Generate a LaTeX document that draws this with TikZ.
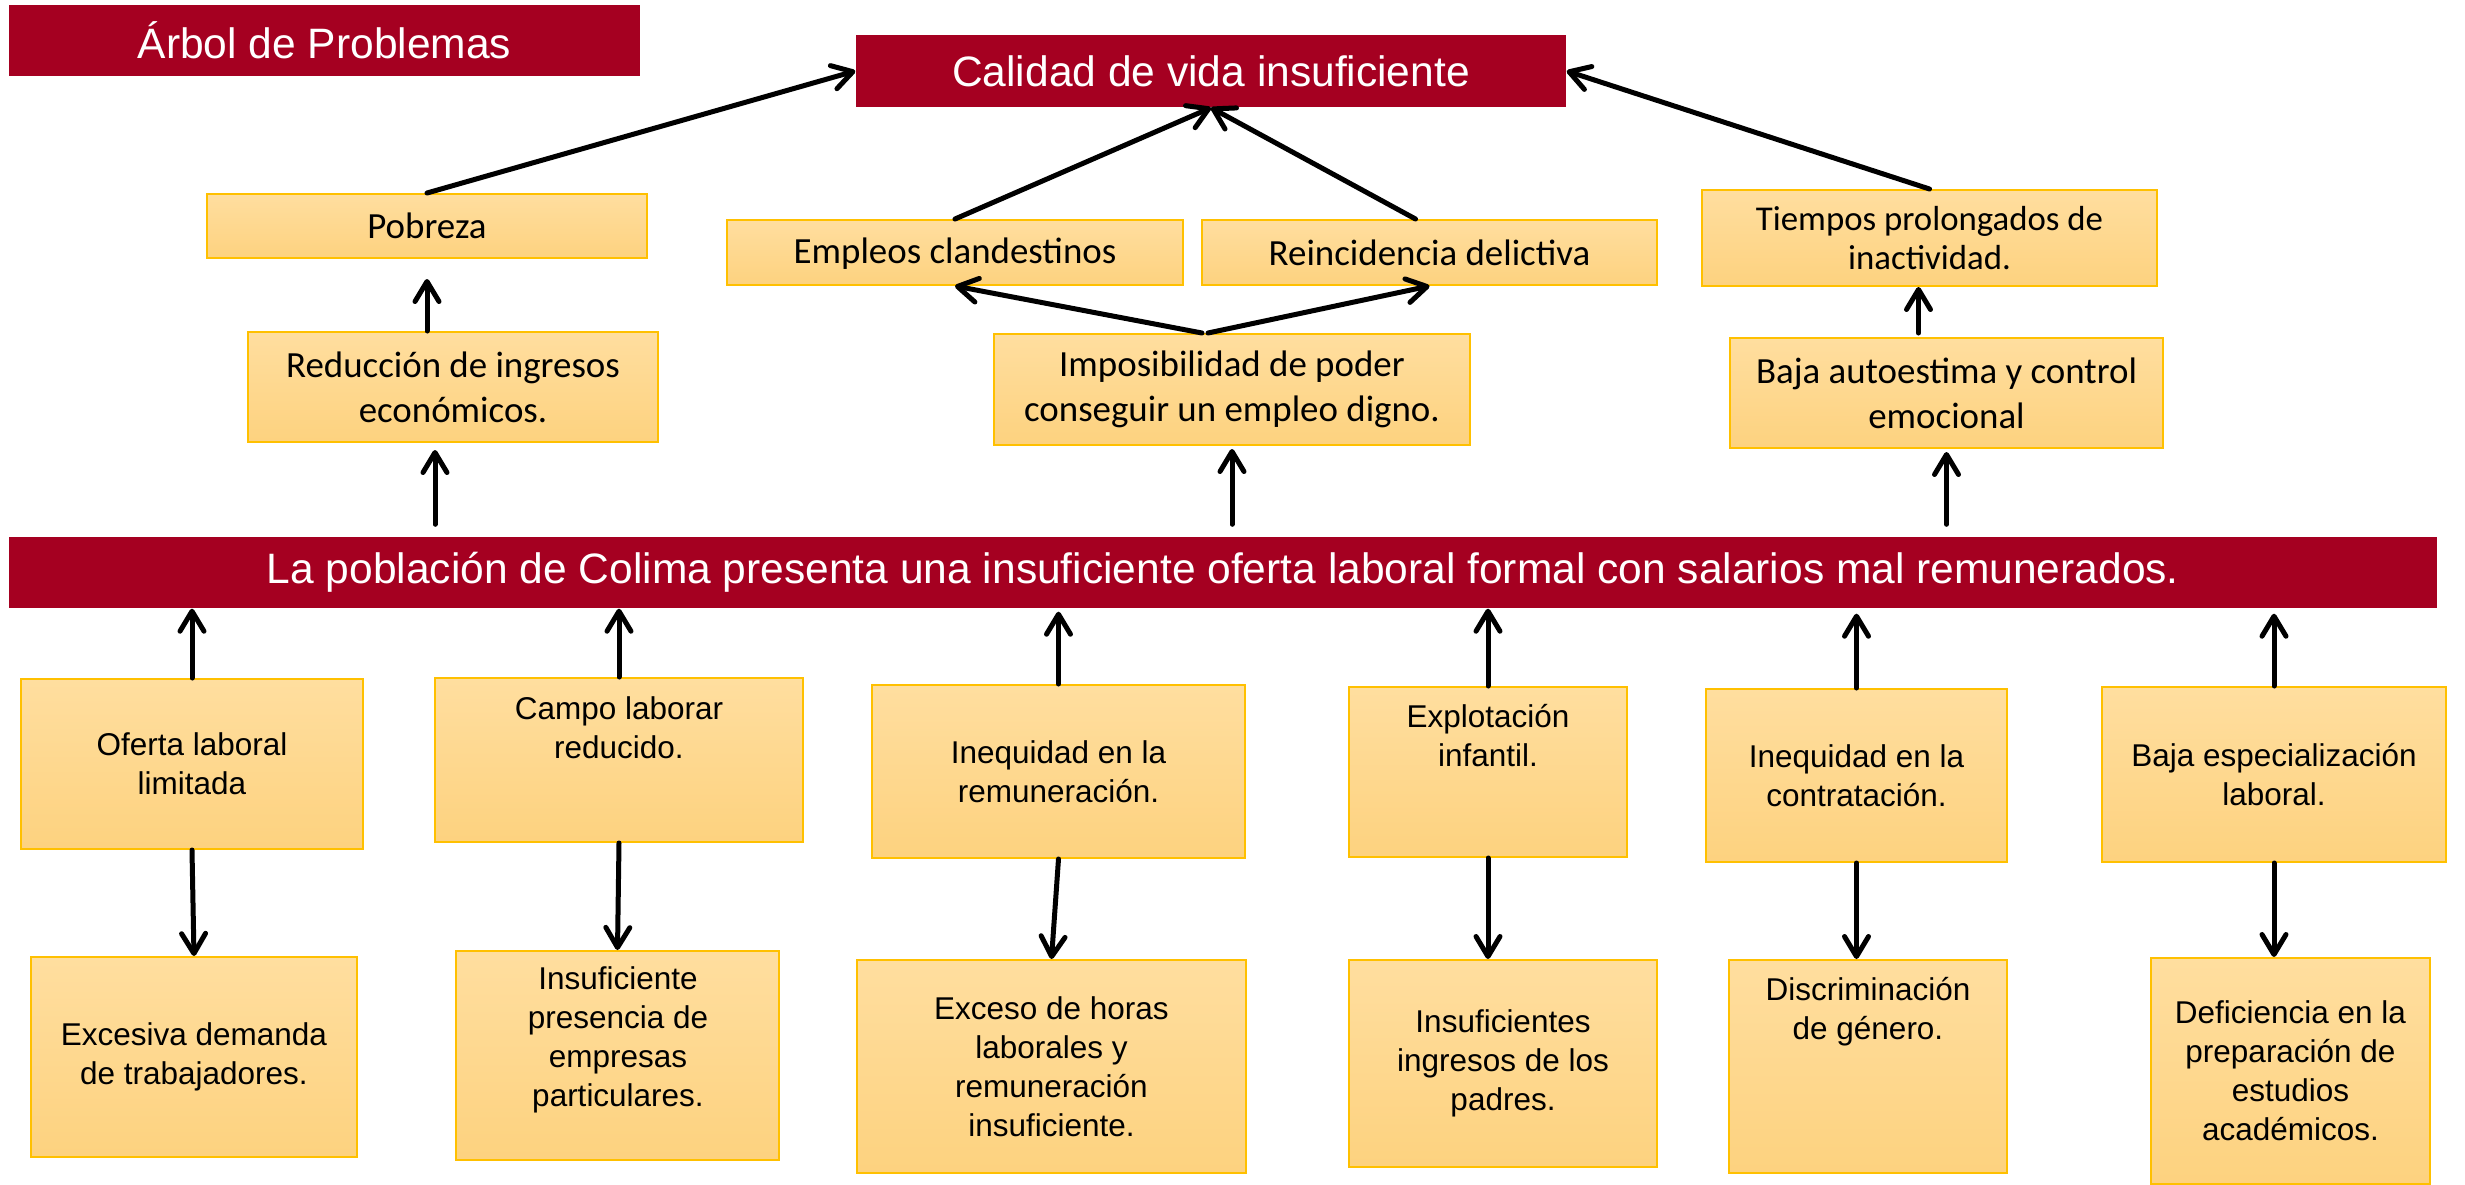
\documentclass[tikz,border=0pt]{standalone}
\usepackage{fontspec}
\setmainfont{Liberation Sans}
\newfontfamily\calibrifont{Carlito}
\usetikzlibrary{arrows.meta}
\definecolor{vino}{HTML}{A50021}
\definecolor{crema}{HTML}{FFDE9F}
\definecolor{miel}{HTML}{FDD27F}
\definecolor{borde}{HTML}{FFC000}

\begin{document}
\begin{tikzpicture}[x=0.1mm, y=-0.1mm,
  banner/.style={fill=vino, inner sep=0pt, text=white, minimum height=7.1mm, font=\fontsize{12.1}{14}\selectfont},
  effect/.style={top color=crema, bottom color=miel, draw=borde, line width=0.2mm, inner sep=0pt, align=center, font=\calibrifont\fontsize{10.5}{12.8}\selectfont},
  cause/.style={top color=crema, bottom color=miel, draw=borde, line width=0.2mm, inner sep=0pt, align=center, font=\fontsize{8.96}{11.1}\selectfont},
  txt/.style={align=center, inner sep=0pt, font=\fontsize{8.96}{11.1}\selectfont},
  arr/.style={-{Straight Barb[length=2mm, width=2.4mm, round]}, line width=0.5mm, line cap=round}]
\useasboundingbox (0,0) rectangle (2465,1185); %page size in pixels

% red banners
\node[banner, minimum width=63.1mm] (titulo) at (324.5,40.5) {Árbol de Problemas};
\node[banner, minimum width=71mm, minimum height=7.2mm] (calidad) at (1211,71) {Calidad de vida insuficiente};
\node[banner, minimum width=242.8mm] (barra) at (1223,572.5) {La población de Colima presenta una insuficiente oferta laboral formal con salarios mal remunerados.};

% effects (upper half)
\node[effect, minimum width=44mm, minimum height=6.4mm] (pobreza) at (427,226) {Pobreza};
\node[effect, minimum width=41mm, minimum height=11mm] (ingresos) at (453,387) {Reducción de ingresos\\económicos.};
\node[effect, minimum width=45.6mm, minimum height=6.5mm, text depth=0.4mm] (empleos) at (955,252.5) {Empleos clandestinos};
\node[effect, minimum width=45.5mm, minimum height=6.5mm] (delito) at (1429.5,252.5) {Reincidencia delictiva};
\node[effect, minimum width=47.6mm, minimum height=11.1mm] (empleo) at (1232,389.5) {Imposibilidad de poder\\conseguir un empleo digno.};
\node[effect, minimum width=45.5mm, minimum height=9.6mm, font=\calibrifont\fontsize{9.9}{10.9}\selectfont] (inactividad) at (1929.5,238) {Tiempos prolongados de\\inactividad.};
\node[effect, minimum width=43.3mm, minimum height=11mm] (autoestima) at (1946.5,393) {Baja autoestima y control\\emocional};

% causes (lower half)
\node[cause, minimum width=34.2mm, minimum height=17mm] (oferta) at (192,764) {Oferta laboral\\limitada};
\node[cause, minimum width=36.8mm, minimum height=16.4mm] (campo) at (619,760) {};
\node[txt] (campo-t) at (619,728) {Campo laborar\\reducido.};
\node[cause, minimum width=37.3mm, minimum height=17.3mm] (remuneracion) at (1058.5,771.5) {Inequidad en la\\remuneración.};
\node[cause, minimum width=27.8mm, minimum height=17mm] (explotacion) at (1488,772) {};
\node[txt] (explotacion-t) at (1488,736) {Explotación\\infantil.};
\node[cause, minimum width=30.1mm, minimum height=17.3mm] (contratacion) at (1856.5,775.5) {Inequidad en la\\contratación.};
\node[cause, minimum width=34.4mm, minimum height=17.5mm] (especializacion) at (2274,774.5) {Baja especialización\\laboral.};

% consequences (bottom row)
\node[cause, minimum width=32.6mm, minimum height=20mm] (demanda) at (194,1057) {Excesiva demanda\\de trabajadores.};
\node[cause, minimum width=32.3mm, minimum height=20.9mm] (empresas) at (617.5,1055.5) {};
\node[txt] (empresas-t) at (618,1040) {Insuficiente\\presencia de\\empresas\\particulares.};
\node[cause, minimum width=38.9mm, minimum height=21.3mm] (horas) at (1051.5,1066.5) {Exceso de horas\\laborales y\\remuneración\\insuficiente.};
\node[cause, minimum width=30.8mm, minimum height=20.7mm] (padres) at (1503,1063.5) {Insuficientes\\ingresos de los\\padres.};
\node[cause, minimum width=27.8mm, minimum height=21.3mm] (genero) at (1868,1066.5) {};
\node[txt] (genero-t) at (1868,1012) {Discriminación\\de género.};
\node[cause, minimum width=27.9mm, minimum height=22.6mm] (academicos) at (2290.5,1071) {Deficiencia en la\\preparación de\\estudios\\académicos.};

% arrows to the top problem
\draw[arr] (pobreza.north) -- (calidad.west);
\draw[arr] (empleos.north) -- (calidad.south);
\draw[arr] ([xshift=-1.4mm]delito.north) -- (calidad.south);
\draw[arr] (inactividad.north) -- (calidad.east);
\draw[arr, shorten >=2mm] (pobreza.south |- ingresos.north) -- (pobreza.south); %Reduccion -> Pobreza
\draw[arr] ([xshift=-3mm]empleo.north) -- (empleos.south);
\draw[arr] ([xshift=-2.4mm]empleo.north) -- (delito.south);
\draw[arr, shorten <=0.4mm] ([xshift=-1.1mm]autoestima.north -| inactividad.south) -- ([xshift=-1.1mm]inactividad.south);

% arrows from the central bar upwards
\draw[arr, shorten <=1.2mm, shorten >=0.7mm] ([xshift=-1.8mm]barra.north -| ingresos.south) -- ([xshift=-1.8mm]ingresos.south);
\draw[arr, shorten <=1.2mm, shorten >=0.3mm] (empleo.south |- barra.north) -- (empleo.south);
\draw[arr, shorten <=1.2mm, shorten >=0.3mm] (autoestima.south |- barra.north) -- (autoestima.south);

% causes -> bar, causes -> consequences
\draw[arr] (oferta.north) -- (oferta.north |- barra.south);
\draw[arr] (campo.north) -- (campo.north |- barra.south);
\draw[arr, shorten >=0.3mm] (remuneracion.north) -- (remuneracion.north |- barra.south);
\draw[arr] (explotacion.north) -- (explotacion.north |- barra.south);
\draw[arr, shorten >=0.5mm] (contratacion.north) -- (contratacion.north |- barra.south);
\draw[arr, shorten >=0.5mm] (especializacion.north) -- (especializacion.north |- barra.south);
\draw[arr] (oferta.south) -- (demanda.north);
\draw[arr] (campo.south) -- (empresas.north);
\draw[arr] (remuneracion.south) -- (horas.north);
\draw[arr] (explotacion.south) -- (explotacion.south |- padres.north);
\draw[arr] (contratacion.south) -- (contratacion.south |- genero.north);
\draw[arr] (especializacion.south) -- (especializacion.south |- academicos.north);
\end{tikzpicture}
\end{document}
